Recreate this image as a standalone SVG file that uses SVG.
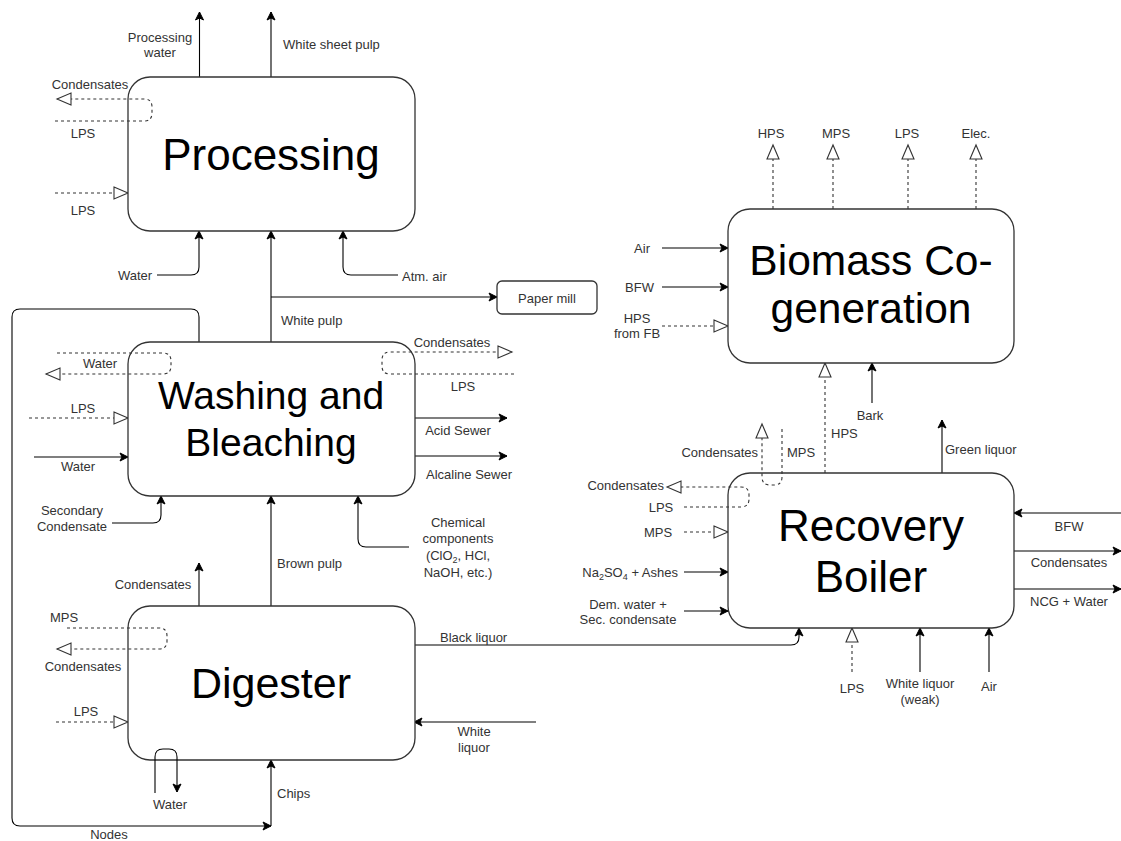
<svg xmlns="http://www.w3.org/2000/svg" width="1121" height="841" viewBox="0 0 1121 841">
<style>
.box{fill:#fff;stroke:#333;stroke-width:1.3}
.big{font-family:"Liberation Sans",Arial,sans-serif;fill:#000;text-anchor:middle}
.lbl{font-family:"Liberation Sans",Arial,sans-serif;font-size:13px;fill:#333}
.m{text-anchor:middle}
.e{text-anchor:end}
.ln{fill:none;stroke:#000;stroke-width:1.1;marker-end:url(#cl)}
.lnp{fill:none;stroke:#000;stroke-width:1.1}
.ds{fill:none;stroke:#333;stroke-width:1.1;stroke-dasharray:3 3;marker-end:url(#op)}
.dsp{fill:none;stroke:#333;stroke-width:1.1;stroke-dasharray:3 3}
</style>
<defs>
<marker id="cl" markerUnits="userSpaceOnUse" markerWidth="10" markerHeight="10" refX="9" refY="5" orient="auto">
<path d="M1,1 L9,5 L1,9 L3,5 Z" fill="#000" stroke="#000" stroke-width="1" stroke-dasharray="none"/>
</marker>
<marker id="op" markerUnits="userSpaceOnUse" markerWidth="17" markerHeight="15" refX="15" refY="7.5" orient="auto">
<path d="M1,1.5 L15,7.5 L1,13.5 Z" fill="#fff" stroke="#333" stroke-width="1.1" stroke-dasharray="none"/>
</marker>
</defs>

<g id="connectors">
<!-- Processing -->
<path class="ln" d="M199.5,77 V12"/>
<path class="ln" d="M271,77 V12"/>
<path class="ln" d="M157,275 H191 Q199,275 199,267 V231"/>
<path class="ds" d="M55,193 H128"/>
<path class="ln" d="M271,342 V231"/>
<path class="ln" d="M271,297 H497"/>
<path class="ln" d="M398,275 H351 Q343,275 343,267 V231"/>
<path class="ln" d="M199,342 V317 Q199,309 191,309 H20 Q12,309 12,317 V818 Q12,826 20,826 H271"/>
<!-- Washing -->
<path class="ds" d="M29,418 H128"/>
<path class="ln" d="M34,457 H128"/>
<path class="ln" d="M112,523 H153 Q161,523 161,515 V496"/>
<path class="ln" d="M271,606 V496"/>
<path class="ln" d="M409,547 H366 Q358,547 358,539 V496"/>
<path class="ln" d="M414,418 H507"/>
<path class="ln" d="M414,456 H507"/>
<!-- Digester -->
<path class="ln" d="M199,606 V563"/>
<path class="ds" d="M56,722 H128"/>
<path class="ln" d="M271,826 V760"/>
<path class="ln" d="M414,645 H791 Q799,645 799,637 V628"/>
<path class="ln" d="M536,722 H414"/>
<!-- Recovery -->
<path class="ds" d="M852,672 V628"/>
<path class="ln" d="M920,672 V628"/>
<path class="ln" d="M989,672 V628"/>
<path class="ln" d="M1121,513 H1014"/>
<path class="ln" d="M1014,551 H1121"/>
<path class="ln" d="M1014,589 H1121"/>
<path class="ln" d="M684,572 H728"/>
<path class="ln" d="M684,611 H728"/>
<path class="ds" d="M684,532 H728"/>
<path class="ds" d="M825,473 V363"/>
<path class="ln" d="M872,403 V363"/>
<path class="ln" d="M942,473 V420"/>
<!-- Biomass -->
<path class="ds" d="M773,209 V145"/>
<path class="ds" d="M833,209 V145"/>
<path class="ds" d="M908,209 V145"/>
<path class="ds" d="M976,209 V145"/>
<path class="ln" d="M662,248 H728"/>
<path class="ln" d="M662,287 H728"/>
<path class="ds" d="M662,326 H728"/>
</g>

<g id="processing">
<rect class="box" x="128" y="77" width="287" height="154" rx="22"/>
<text class="big" x="271" y="170" font-size="44">Processing</text>
</g>
<g id="washing">
<rect class="box" x="128" y="342" width="287" height="154" rx="22"/>
<text class="big" x="271" y="409" font-size="39">Washing and</text>
<text class="big" x="271" y="456" font-size="39">Bleaching</text>
</g>
<g id="digester">
<rect class="box" x="128" y="606" width="287" height="154" rx="22"/>
<text class="big" x="271" y="698" font-size="43">Digester</text>
</g>
<g id="biomass">
<rect class="box" x="728" y="209" width="286" height="154" rx="22"/>
<text class="big" x="871" y="275" font-size="42.5">Biomass Co-</text>
<text class="big" x="871" y="323" font-size="42.5">generation</text>
</g>
<g id="recovery">
<rect class="box" x="728" y="473" width="286" height="155" rx="22"/>
<text class="big" x="871" y="541" font-size="44">Recovery</text>
<text class="big" x="871" y="592" font-size="44">Boiler</text>
</g>
<g id="papermill">
<rect class="box" x="497" y="281" width="100" height="33" rx="5"/>
<text class="lbl m" x="547" y="302.5">Paper mill</text>
</g>

<g id="connectors-over">
<path class="ds" d="M55,121 H144 Q152,121 152,113 V107 Q152,99 144,99 H57"/>
<path class="ds" d="M57,353 H163 Q171,353 171,361 V366 Q171,374 163,374 H46"/>
<path class="ds" d="M514,374 H390 Q382,374 382,366 V360 Q382,352 390,352 H512"/>
<path class="ds" d="M67,628 H159 Q167,628 167,636 V641 Q167,649 159,649 H57"/>
<path class="ln" d="M155,793 V757 Q155,749 163,749 H169 Q177,749 177,757 V792"/>
<path class="ds" d="M684,507 H741 Q749,507 749,499 V495 Q749,487 741,487 H667"/>
<path class="ds" d="M782,429 V477 Q782,485 774,485 H770 Q762,485 762,477 V424"/>
</g>

<g id="labels">
<text class="lbl m" x="160" y="41.5">Processing</text>
<text class="lbl m" x="160" y="56.5">water</text>
<text class="lbl" x="283" y="48.5">White sheet pulp</text>
<text class="lbl m" x="90" y="88.5">Condensates</text>
<text class="lbl m" x="83" y="137.5">LPS</text>
<text class="lbl m" x="83" y="214.5">LPS</text>
<text class="lbl m" x="135" y="279.5">Water</text>
<text class="lbl" x="402" y="280.5">Atm. air</text>
<text class="lbl" x="281" y="324.5">White pulp</text>

<text class="lbl m" x="100" y="367.5">Water</text>
<text class="lbl m" x="83" y="412.5">LPS</text>
<text class="lbl m" x="78" y="470.5">Water</text>
<text class="lbl m" x="72" y="514.5">Secondary</text>
<text class="lbl m" x="72" y="530.5">Condensate</text>
<text class="lbl" x="277" y="567.5">Brown pulp</text>
<text class="lbl m" x="458" y="526.5">Chemical</text>
<text class="lbl m" x="458" y="542.5">components</text>
<text class="lbl m" x="458" y="559.5">(ClO<tspan font-size="9" dy="3">2</tspan><tspan dy="-3">, HCl,</tspan></text>
<text class="lbl m" x="458" y="576.5">NaOH, etc.)</text>
<text class="lbl m" x="452" y="346.5">Condensates</text>
<text class="lbl m" x="463" y="390.5">LPS</text>
<text class="lbl m" x="458" y="434.5">Acid Sewer</text>
<text class="lbl m" x="469" y="478.5">Alcaline Sewer</text>

<text class="lbl m" x="153" y="588.5">Condensates</text>
<text class="lbl m" x="64" y="621.5">MPS</text>
<text class="lbl m" x="83" y="670.5">Condensates</text>
<text class="lbl m" x="86" y="715.5">LPS</text>
<text class="lbl m" x="170" y="808.5">Water</text>
<text class="lbl" x="277" y="797.5">Chips</text>
<text class="lbl m" x="109" y="839">Nodes</text>
<text class="lbl" x="440" y="641.5">Black liquor</text>
<text class="lbl m" x="474" y="735.5">White</text>
<text class="lbl m" x="474" y="751.5">liquor</text>

<text class="lbl m" x="852" y="692.5">LPS</text>
<text class="lbl m" x="920" y="687.5">White liquor</text>
<text class="lbl m" x="920" y="703.5">(weak)</text>
<text class="lbl m" x="989" y="690.5">Air</text>
<text class="lbl m" x="1069" y="530.5">BFW</text>
<text class="lbl m" x="1069" y="566.5">Condensates</text>
<text class="lbl m" x="1069" y="605.5">NCG + Water</text>
<text class="lbl e" x="678" y="576.5">Na<tspan font-size="9" dy="3">2</tspan><tspan dy="-3">SO</tspan><tspan font-size="9" dy="3">4</tspan><tspan dy="-3"> + Ashes</tspan></text>
<text class="lbl m" x="628" y="608.5">Dem. water +</text>
<text class="lbl m" x="628" y="623.5">Sec. condensate</text>
<text class="lbl m" x="658" y="536.5">MPS</text>
<text class="lbl e" x="664" y="489.5">Condensates</text>
<text class="lbl m" x="661" y="511.5">LPS</text>
<text class="lbl e" x="758" y="456.5">Condensates</text>
<text class="lbl" x="787" y="456.5">MPS</text>
<text class="lbl" x="831" y="437.5">HPS</text>
<text class="lbl m" x="870" y="419.5">Bark</text>
<text class="lbl" x="945" y="453.5">Green liquor</text>

<text class="lbl m" x="771" y="137.5">HPS</text>
<text class="lbl m" x="836" y="137.5">MPS</text>
<text class="lbl m" x="907" y="137.5">LPS</text>
<text class="lbl m" x="976" y="137.5">Elec.</text>
<text class="lbl e" x="650" y="252.5">Air</text>
<text class="lbl e" x="654" y="291.5">BFW</text>
<text class="lbl m" x="637" y="322.5">HPS</text>
<text class="lbl m" x="637" y="337.5">from FB</text>
</g>
</svg>
